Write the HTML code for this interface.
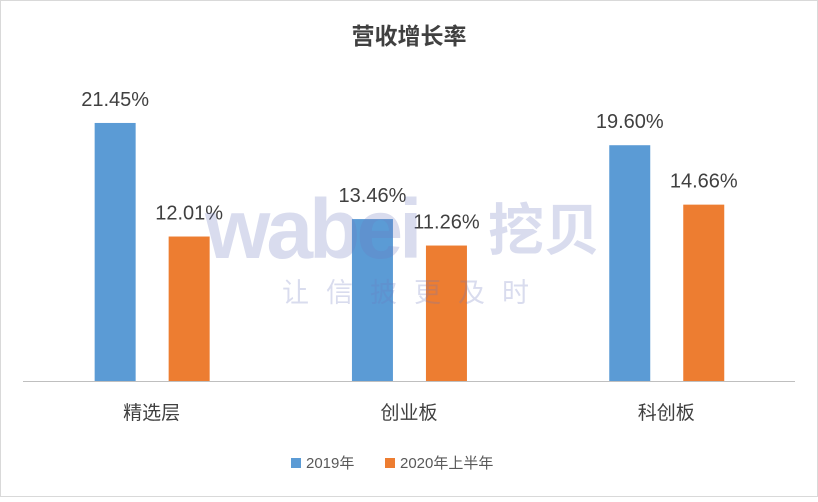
<!DOCTYPE html>
<html><head><meta charset="utf-8"><style>
html,body{margin:0;padding:0;background:#fff}
svg text{font-family:"Liberation Sans","Noto Sans CJK SC",sans-serif}
</style></head><body>
<svg width="818" height="497" viewBox="0 0 818 497">
<rect x="0.5" y="0.5" width="817" height="496" fill="#fff" stroke="#d9d9d9"/>
<text x="409" y="44" font-size="23" font-weight="bold" text-anchor="middle" fill="#404040">营收增长率</text>
<g id="plot"></g>
<line x1="23" y1="381.5" x2="795" y2="381.5" stroke="#bfbfbf"/>
<g fill="rgba(110,120,190,0.26)">
<text x="205" y="258" font-size="84" font-weight="bold" letter-spacing="-4">wabei</text>
<text x="488" y="250" font-size="56" font-weight="bold">挖贝</text>
<text x="282" y="302" font-size="27" letter-spacing="17">让信披更及时</text>
</g>
<g>
<rect x="291" y="458" width="10" height="10" fill="#5b9bd5"/>
<text x="306" y="468" font-size="15" fill="#595959">2019年</text>
<rect x="385" y="458" width="10" height="10" fill="#ed7d31"/>
<text x="400" y="468" font-size="15" fill="#595959">2020年上半年</text>
</g>
</svg>
<script>
const categories=["精选层","创业板","科创板"];
const s2019=[21.45,13.46,19.60];
const s2020=[12.01,11.26,14.66];
const ns="http://www.w3.org/2000/svg";
const g=document.getElementById('plot');
const x0=23,bandW=257.3,baseY=381,pxPer=12.03,barW=41;
function yScale(v){return baseY-v*pxPer;}
function xCenter(i){return x0+bandW*(i+0.5);}
function mk(tag,attrs){const e=document.createElementNS(ns,tag);for(const k in attrs)e.setAttribute(k,attrs[k]);g.appendChild(e);return e;}
categories.forEach((c,i)=>{
  const cx=xCenter(i);
  [[s2019,"#5b9bd5",-57,"bar-2019"],[s2020,"#ed7d31",17,"bar-2020h1"]].forEach(([arr,col,off,nm])=>{
    const v=arr[i];
    const r=mk('rect',{x:cx+off,y:yScale(v),width:barW,height:baseY-yScale(v),fill:col});
    
    
    const t=mk('text',{x:cx+off+barW/2,y:yScale(v)-17,'font-size':20,'text-anchor':'middle',fill:'#404040'});
    t.textContent=v.toFixed(2)+'%';
    
    
  });
  const l=mk('text',{x:cx,y:419,'font-size':19,'text-anchor':'middle',fill:'#404040'});
  l.textContent=c;
  
  
});
</script>
</body></html>
